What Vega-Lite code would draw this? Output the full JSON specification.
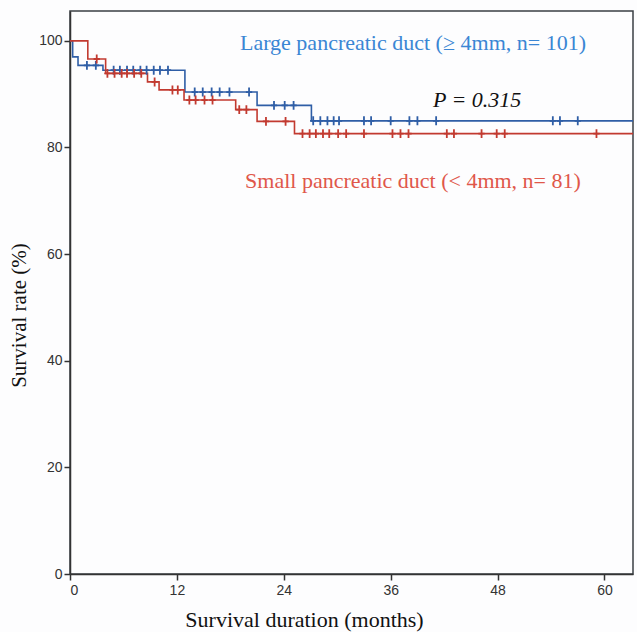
{
  "$schema": "https://vega.github.io/schema/vega-lite/v6.json",
  "width": 563,
  "height": 563,
  "autosize": "none",
  "padding": {"left": 70, "top": 11, "right": 4, "bottom": 58},
  "background": "#fdfdfe",
  "config": {
    "view": {"stroke": "#3a3f44", "strokeWidth": 1.5},
    "axis": {"grid": false}
  },
  "datasets": {
    "curves": [
      {"group": "Large", "t": 0, "s": 100},
      {"group": "Large", "t": 0.3, "s": 97.0},
      {"group": "Large", "t": 0.9, "s": 95.4},
      {"group": "Large", "t": 3.7, "s": 94.5},
      {"group": "Large", "t": 12.9, "s": 90.4},
      {"group": "Large", "t": 21.0, "s": 87.9},
      {"group": "Large", "t": 27.1, "s": 85.0},
      {"group": "Large", "t": 63.2, "s": 85.0},
      {"group": "Small", "t": 0, "s": 100},
      {"group": "Small", "t": 2.0, "s": 96.6},
      {"group": "Small", "t": 4.0, "s": 93.9},
      {"group": "Small", "t": 8.7, "s": 92.3},
      {"group": "Small", "t": 10.0, "s": 90.8},
      {"group": "Small", "t": 12.8, "s": 88.9},
      {"group": "Small", "t": 18.6, "s": 87.1},
      {"group": "Small", "t": 21.0, "s": 84.9},
      {"group": "Small", "t": 25.2, "s": 82.6},
      {"group": "Small", "t": 63.2, "s": 82.6}
    ],
    "censors": [
      {"group": "Large", "t": 1.9, "s": 95.4},
      {"group": "Large", "t": 2.9, "s": 95.4},
      {"group": "Large", "t": 4.9, "s": 94.5},
      {"group": "Large", "t": 5.6, "s": 94.5},
      {"group": "Large", "t": 6.4, "s": 94.5},
      {"group": "Large", "t": 7.1, "s": 94.5},
      {"group": "Large", "t": 7.9, "s": 94.5},
      {"group": "Large", "t": 8.6, "s": 94.5},
      {"group": "Large", "t": 9.4, "s": 94.5},
      {"group": "Large", "t": 10.1, "s": 94.5},
      {"group": "Large", "t": 11.0, "s": 94.5},
      {"group": "Large", "t": 14.0, "s": 90.4},
      {"group": "Large", "t": 14.9, "s": 90.4},
      {"group": "Large", "t": 15.9, "s": 90.4},
      {"group": "Large", "t": 16.8, "s": 90.4},
      {"group": "Large", "t": 17.9, "s": 90.4},
      {"group": "Large", "t": 20.1, "s": 90.4},
      {"group": "Large", "t": 22.9, "s": 87.9},
      {"group": "Large", "t": 24.1, "s": 87.9},
      {"group": "Large", "t": 25.1, "s": 87.9},
      {"group": "Large", "t": 27.3, "s": 85.0},
      {"group": "Large", "t": 28.1, "s": 85.0},
      {"group": "Large", "t": 28.9, "s": 85.0},
      {"group": "Large", "t": 29.6, "s": 85.0},
      {"group": "Large", "t": 30.2, "s": 85.0},
      {"group": "Large", "t": 33.0, "s": 85.0},
      {"group": "Large", "t": 33.8, "s": 85.0},
      {"group": "Large", "t": 36.0, "s": 85.0},
      {"group": "Large", "t": 38.1, "s": 85.0},
      {"group": "Large", "t": 39.0, "s": 85.0},
      {"group": "Large", "t": 41.1, "s": 85.0},
      {"group": "Large", "t": 54.2, "s": 85.0},
      {"group": "Large", "t": 55.0, "s": 85.0},
      {"group": "Large", "t": 57.0, "s": 85.0},
      {"group": "Small", "t": 3.0, "s": 96.6},
      {"group": "Small", "t": 4.2, "s": 93.9},
      {"group": "Small", "t": 5.0, "s": 93.9},
      {"group": "Small", "t": 5.8, "s": 93.9},
      {"group": "Small", "t": 6.4, "s": 93.9},
      {"group": "Small", "t": 7.2, "s": 93.9},
      {"group": "Small", "t": 8.0, "s": 93.9},
      {"group": "Small", "t": 9.5, "s": 92.3},
      {"group": "Small", "t": 11.5, "s": 90.8},
      {"group": "Small", "t": 12.1, "s": 90.8},
      {"group": "Small", "t": 13.4, "s": 88.9},
      {"group": "Small", "t": 14.1, "s": 88.9},
      {"group": "Small", "t": 15.1, "s": 88.9},
      {"group": "Small", "t": 16.0, "s": 88.9},
      {"group": "Small", "t": 19.0, "s": 87.1},
      {"group": "Small", "t": 19.8, "s": 87.1},
      {"group": "Small", "t": 22.0, "s": 84.9},
      {"group": "Small", "t": 24.2, "s": 84.9},
      {"group": "Small", "t": 26.1, "s": 82.6},
      {"group": "Small", "t": 26.9, "s": 82.6},
      {"group": "Small", "t": 27.6, "s": 82.6},
      {"group": "Small", "t": 28.4, "s": 82.6},
      {"group": "Small", "t": 29.1, "s": 82.6},
      {"group": "Small", "t": 30.1, "s": 82.6},
      {"group": "Small", "t": 31.0, "s": 82.6},
      {"group": "Small", "t": 33.0, "s": 82.6},
      {"group": "Small", "t": 36.2, "s": 82.6},
      {"group": "Small", "t": 37.1, "s": 82.6},
      {"group": "Small", "t": 38.0, "s": 82.6},
      {"group": "Small", "t": 42.3, "s": 82.6},
      {"group": "Small", "t": 43.1, "s": 82.6},
      {"group": "Small", "t": 46.2, "s": 82.6},
      {"group": "Small", "t": 47.9, "s": 82.6},
      {"group": "Small", "t": 48.8, "s": 82.6},
      {"group": "Small", "t": 59.1, "s": 82.6}
    ],
    "labels": [
      {"label": "Large pancreatic duct (≥ 4mm, n= 101)", "t": 38.5, "s": 99.6, "kind": "Large"},
      {"label": "P = 0.315", "t": 45.7, "s": 89.0, "kind": "P"},
      {"label": "Small pancreatic duct (< 4mm, n= 81)", "t": 38.5, "s": 73.8, "kind": "Small"}
    ]
  },
  "layer": [
    {
      "data": {"name": "curves"},
      "mark": {"type": "line", "interpolate": "step-after", "strokeWidth": 1.6, "clip": true},
      "encoding": {
        "x": {
          "field": "t", "type": "quantitative",
          "scale": {"domain": [0, 63.2], "nice": false, "zero": false},
          "axis": {
            "values": [0, 12, 24, 36, 48, 60],
            "title": "Survival duration (months)",
            "titleFont": "Liberation Serif", "titleFontSize": 22, "titleFontWeight": "normal",
            "titleColor": "#111", "titleX": 234, "titleY": 52, "titleBaseline": "alphabetic",
            "labelFont": "Liberation Sans", "labelFontSize": 14, "labelColor": "#333",
            "labelPadding": 3,
            "tickSize": 6, "tickColor": "#333", "tickWidth": 1.5,
            "domainColor": "#333", "domainWidth": 1.5
          }
        },
        "y": {
          "field": "s", "type": "quantitative",
          "scale": {"domain": [0, 105.6], "nice": false, "zero": false},
          "axis": {
            "values": [0, 20, 40, 60, 80, 100],
            "title": "Survival rate (%)",
            "titleFont": "Liberation Serif", "titleFontSize": 21, "titleFontWeight": "normal",
            "titleColor": "#111", "titleX": -41, "titleY": 304,
            "labelFont": "Liberation Sans", "labelFontSize": 14, "labelColor": "#333",
            "labelPadding": 2,
            "tickSize": 6, "tickColor": "#333", "tickWidth": 1.5,
            "domainColor": "#333", "domainWidth": 1.5
          }
        },
        "color": {
          "field": "group", "type": "nominal",
          "scale": {"domain": ["Large", "Small"], "range": ["#2f5ea6", "#c23a30"]},
          "legend": null
        },
        "detail": {"field": "group"}
      }
    },
    {
      "data": {"name": "censors"},
      "mark": {"type": "point", "shape": "M0,-1L0,1M-0.7,0L0.7,0", "filled": false, "strokeWidth": 1.8, "size": 80, "opacity": 1},
      "encoding": {
        "x": {"field": "t", "type": "quantitative"},
        "y": {"field": "s", "type": "quantitative"},
        "color": {
          "field": "group", "type": "nominal",
          "scale": {"domain": ["Large", "Small"], "range": ["#2f5ea6", "#c23a30"]},
          "legend": null
        }
      }
    },
    {
      "data": {"name": "labels"},
      "transform": [{"filter": "datum.kind !== 'P'"}],
      "mark": {"type": "text", "font": "Liberation Serif", "fontSize": 22, "align": "center", "baseline": "middle"},
      "encoding": {
        "x": {"field": "t", "type": "quantitative"},
        "y": {"field": "s", "type": "quantitative"},
        "text": {"field": "label"},
        "color": {
          "field": "kind", "type": "nominal",
          "scale": {"domain": ["Large", "Small"], "range": ["#3a86d4", "#e0574a"]},
          "legend": null
        }
      }
    },
    {
      "data": {"name": "labels"},
      "transform": [{"filter": "datum.kind === 'P'"}],
      "mark": {"type": "text", "font": "Liberation Serif", "fontSize": 22, "fontStyle": "italic", "align": "center", "baseline": "middle", "color": "#111"},
      "encoding": {
        "x": {"field": "t", "type": "quantitative"},
        "y": {"field": "s", "type": "quantitative"},
        "text": {"field": "label"}
      }
    }
  ],
  "resolve": {"scale": {"color": "independent"}}
}
